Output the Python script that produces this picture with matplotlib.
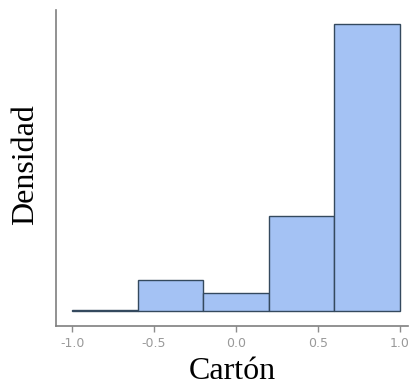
import matplotlib.pyplot as plt

# bin edges and density heights
bin_edges = [-1.0, -0.6, -0.2, 0.2, 0.6, 1.0]
densities = [0.008, 0.18, 0.105, 0.55, 1.665]
xticks = [-1.0, -0.5, 0.0, 0.5, 1.0]

fig = plt.figure(figsize=(4.09, 3.91), dpi=100)
ax = fig.add_axes([0.137, 0.166, 0.861, 0.808])

widths = [bin_edges[i + 1] - bin_edges[i] for i in range(len(densities))]
ax.bar(bin_edges[:-1], densities, width=widths, align='edge',
       color='#a4c2f4', edgecolor='#34495e', linewidth=1.0)

ax.set_xlim(-1.098, 1.05)
ax.set_ylim(-0.087, 1.746)
ax.set_xticks(xticks)
ax.set_xticklabels([f'{t:.1f}' for t in xticks], color='#999999', fontsize=9)
ax.set_yticks([])
ax.tick_params(axis='x', colors='#8c8c8c', length=4, width=1, pad=4, labelcolor='#999999')

for s in ['top', 'right']:
    ax.spines[s].set_visible(False)
for s in ['left', 'bottom']:
    ax.spines[s].set_color('#7f7f7f')
    ax.spines[s].set_linewidth(1.2)

ax.set_xlabel('Cartón', family='Liberation Serif', fontsize=23, labelpad=5)
ax.set_ylabel('Densidad', family='Liberation Serif', fontsize=23)
ax.yaxis.set_label_coords(-0.045, 0.51)

fig.savefig('out.png', dpi=100)
